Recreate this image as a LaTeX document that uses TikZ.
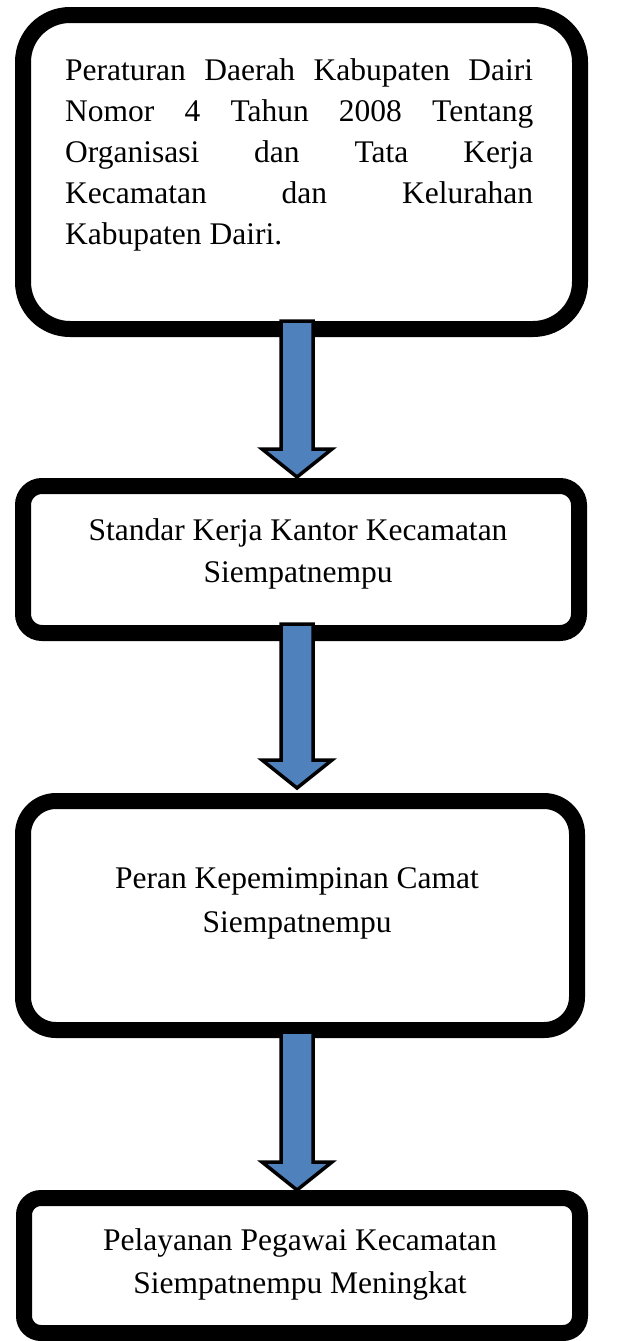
\documentclass[tikz,border=0pt]{standalone}
\usepackage{fontspec}
\setmainfont{Liberation Serif}
\usetikzlibrary{calc}
\definecolor{arrowblue}{HTML}{4F81BD}
\tikzset{
  box/.style={draw=black, line width=16pt, fill=white, outer sep=0pt, inner sep=0pt},
  barrow/.style={draw=black, fill=arrowblue, line width=3.5pt, line join=miter, miter limit=10},
  boxtext/.style={inner sep=0pt, anchor=base},
}
\newcommand{\blockarrow}[2]{%
  \draw[barrow] let \p1=(#1), \p2=(#2) in
    (\x1-16,\y1) -- (\x1-16,\y2+28) -- (\x1-35,\y2+28) -- (\x1,\y2)
    -- (\x1+35,\y2+28) -- (\x1+16,\y2+28) -- (\x1+16,\y1) -- cycle;}
\begin{document}
\begin{tikzpicture}[x=1pt,y=1pt]
\useasboundingbox (0,0) rectangle (640,-1341);
\fill[white] (0,0) rectangle (640,-1341);

% boxes
\node[box, rounded corners=47pt, minimum width=557pt, minimum height=314pt] (b1) at (301.5,-172) {};
\node[box, rounded corners=19pt, minimum width=556pt, minimum height=147pt] (b2) at (301,-559.5) {};
\node[box, rounded corners=33pt, minimum width=554pt, minimum height=229pt] (b3) at (300,-915.5) {};
\node[box, rounded corners=17pt, minimum width=556pt, minimum height=135pt] (b4) at (302,-1265.5) {};

% texts
\node[inner sep=0pt, anchor=base west] (t1) at (65,-80) {\parbox[t]{468pt}{\fontsize{31.5}{41}\selectfont
  \makebox[468pt][s]{Peraturan Daerah Kabupaten Dairi}\\
  \makebox[468pt][s]{Nomor 4 Tahun 2008 Tentang}\\
  \makebox[468pt][s]{Organisasi dan Tata Kerja}\\
  \makebox[468pt][s]{Kecamatan dan Kelurahan}\\
  Kabupaten Dairi.}};
\node[boxtext] (t2) at (298,-540) {\parbox[t]{520pt}{\centering\fontsize{31.5}{42}\selectfont Standar Kerja Kantor Kecamatan\\ Siempatnempu}};
\node[boxtext] (t3) at (297,-888) {\parbox[t]{520pt}{\centering\fontsize{31.5}{44}\selectfont Peran Kepemimpinan Camat\\ Siempatnempu}};
\node[boxtext] (t4) at (300,-1250) {\parbox[t]{520pt}{\centering\fontsize{31.5}{43}\selectfont Pelayanan Pegawai Kecamatan\\ Siempatnempu Meningkat}};

% arrow end points
\coordinate (a1s) at ($(b1.south)+(-4.5,8)$);
\coordinate (a1e) at ($(b2.north)+(-4,9)$);
\coordinate (a2s) at ($(b2.south)+(-4,9)$);
\coordinate (a2e) at ($(b3.north)+(-3,13)$);
\coordinate (a3s) at ($(b3.south)+(-3,-2)$);
\coordinate (a3e) at ($(b4.north)+(-5,8)$);

\blockarrow{a1s}{a1e}
\blockarrow{a2s}{a2e}
\blockarrow{a3s}{a3e}
\end{tikzpicture}
\end{document}
